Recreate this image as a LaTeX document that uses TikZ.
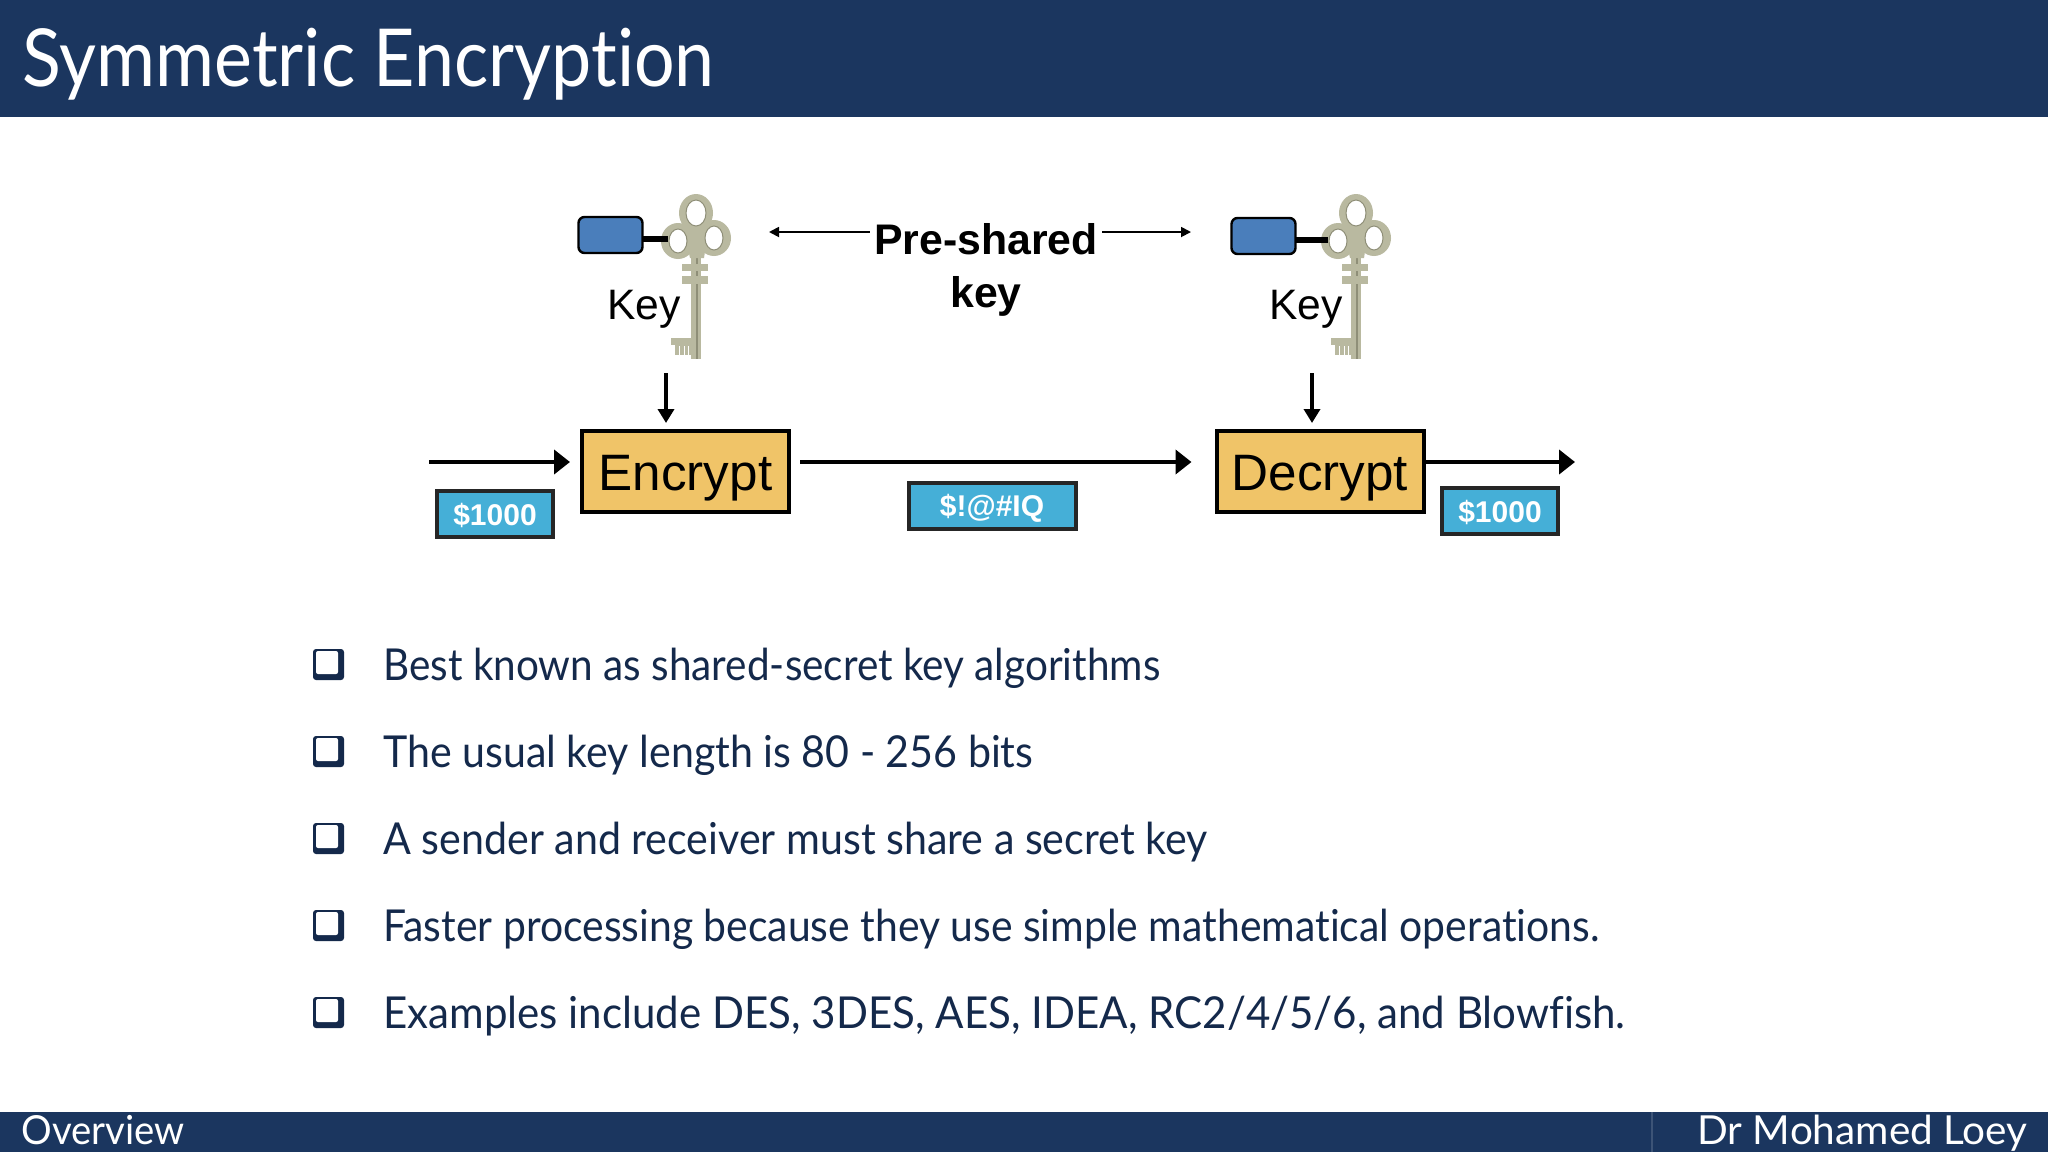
\documentclass[tikz,border=0pt]{standalone}
\usepackage{fontspec}
\usepackage{graphicx}
\setmainfont{Liberation Sans}
\newfontfamily\slidefont[RawFeature={-liga;-dlig;-clig}]{Lato}
\usetikzlibrary{arrows.meta}
\definecolor{navy}{HTML}{1B365F}
\definecolor{inktext}{HTML}{14294B}
\definecolor{gold}{HTML}{F0C468}
\definecolor{sky}{HTML}{45AFD7}
\definecolor{tagblue}{HTML}{4A7EBB}
\definecolor{keyc}{HTML}{B9B9A0}
\definecolor{keyd}{HTML}{8F8F78}
\newcommand{\fitw}[2]{\resizebox{#1}{\height}{#2}}
\newcommand{\drop}[2]{\raisebox{-#1}[0pt][0pt]{#2}}
\tikzset{
  band/.style={fill=navy,draw=none},
  slide/.style={font=\slidefont\fontsize{22pt}{26pt}\selectfont,text=inktext,anchor=base west,inner sep=0pt},
  slidew/.style={slide,text=white},
  footw/.style={slide,text=white,font=\slidefont\fontsize{20pt}{24pt}\selectfont},
  op/.style={draw=black,fill=gold,line width=2pt,minimum width=103.5pt,minimum height=40.5pt,inner sep=0pt,font=\fontsize{25.6pt}{28pt}\selectfont},
  val/.style={draw=black!85,fill=sky,line width=2pt,minimum width=58pt,minimum height=23pt,inner sep=0pt,text=white,font=\bfseries\fontsize{15pt}{18pt}\selectfont},
  flow/.style={line width=2.3pt,-{Triangle[length=8pt,width=12pt]}},
  thin flow/.style={line width=0.9pt,-{Triangle[length=5pt,width=5pt]}},
  feed/.style={line width=1.9pt,-{Triangle[length=7pt,width=8pt]}},
  keylabel/.style={font=\fontsize{21.3pt}{24pt}\selectfont,anchor=base west,inner sep=0pt},
  shared/.style={font=\bfseries\fontsize{21.4pt}{24pt}\selectfont,anchor=base,inner sep=0pt},
  tag/.style={draw=black,fill=tagblue,line width=1.2pt,rounded corners=3pt,minimum width=32pt,minimum height=18pt,inner sep=0pt},
}
\newcommand{\keyshape}[1]{%
  \begin{scope}[xshift=#1*0.5pt]
    \fill[keyc] (691,250) rectangle (701,359);
    \fill[keyd] (696,255) rectangle (697.5,359);
    \fill[keyc] (682,264) rectangle (708,271);
    \fill[keyc] (682,276) rectangle (708,284);
    \fill[keyc] (671,338) rectangle (691,345);
    \fill[keyc] (675,345) rectangle (691,355);
    \foreach \t in {679,684,688}{\fill[white] (\t,346) rectangle +(1.3,9);}
    \fill[keyc] (696,213) ellipse [x radius=17,y radius=19];
    \fill[keyc] (678,241) ellipse [x radius=17,y radius=18];
    \fill[keyc] (714,238) ellipse [x radius=17,y radius=18];
    \fill[keyc] (683,225) -- (709,225) -- (704,258) -- (690,258) -- cycle;
    \filldraw[fill=white,draw=keyd,line width=0.5pt] (696,213) ellipse [x radius=10,y radius=13];
    \filldraw[fill=white,draw=keyd,line width=0.5pt] (678,241) ellipse [x radius=9,y radius=12];
    \filldraw[fill=white,draw=keyd,line width=0.5pt] (714,238) ellipse [x radius=9,y radius=12];
  \end{scope}}
\begin{document}
\begin{tikzpicture}[x=0.5pt,y=-0.5pt]
\useasboundingbox (0,0) rectangle (2048,1152);
\fill[white] (0,0) rectangle (2048,1152);
% bands
\fill[band] (0,0) rectangle (2048,117);
\fill[band] (0,1112) rectangle (2048,1152);
\fill[navy!85!white] (1651,1112) rectangle (1652.5,1152);
\node[slidew,font=\slidefont\fontsize{40pt}{44pt}\selectfont] (title) at (22,86) {\fitw{346pt}{Symmetric Encryption}};
\node[footw] (overview) at (21,1144) {\fitw{81.5pt}{Overview}};
\node[footw] (author) at (1697,1144) {\fitw{165pt}{Dr Mohamed Loey}};
% keys
\keyshape{0}
\keyshape{660}
\coordinate (ring1) at (668,239);
\coordinate (ring2) at (1328,240);
\draw[line width=2.7pt] (ring1) -- (ring1 -| 640,0);
\draw[line width=2.7pt] (ring2) -- (ring2 -| 1293,0);
\node[tag] (tag1) at (610.5,235) {};
\node[tag] (tag2) at (1263.5,236) {};
\node[keylabel] (key1) at (607,319) {Key};
\node[keylabel] (key2) at (1269,319) {Key};
% pre-shared
\node[shared] (ps) at (986,254) {Pre-shared};
\node[shared] (ps2) at (986,307) {key};
\coordinate (psl) at (769,232);
\coordinate (psr) at (1191,232);
\draw[thin flow] ([xshift=-2pt]ps.west |- psl) -- (psl);
\draw[thin flow] ([xshift=2pt]ps.east |- psr) -- (psr);
% main flow
\node[op] (enc) at (685.5,471.5) {\drop{9.25pt}{Encrypt}};
\node[op] (dec) at (1320,471.5) {\drop{9.25pt}{Decrypt}};
\node[val] (v1) at (495,514) {\drop{5.5pt}{\$1000}};
\node[val,minimum width=83.5pt] (v2) at (992,505.5) {\drop{5.5pt}{\$!@\#IQ}};
\node[val] (v3) at (1500,511) {\drop{5.5pt}{\$1000}};
\coordinate (inl) at (429,462);
\coordinate (outr) at (1575,462);
\coordinate (kd1) at (666,373);
\coordinate (kd2) at (1312,373);
\draw[flow] (inl) -- ([xshift=-5pt]enc.west |- inl);
\draw[flow] ([xshift=4.5pt]enc.east |- inl) -- ([xshift=-11.5pt]dec.west |- inl);
\draw[flow] (dec.east |- inl) -- (outr);
\draw[feed] (kd1) -- ([yshift=3pt]enc.north -| kd1);
\draw[feed] (kd2) -- ([yshift=3pt]dec.north -| kd2);
% bullets
\foreach \yy/\w/\txt [count=\i] in {
  680/388.5pt/{Best known as shared-secret key algorithms},
  767/325pt/{The usual key length is 80 - 256 bits},
  854/412pt/{A sender and receiver must share a secret key},
  941/608pt/{Faster processing because they use simple mathematical operations.},
  1028/621pt/{Examples include DES, 3DES, AES, IDEA, RC2/4/5/6, and Blowfish.}}{
  \fill[inktext,rounded corners=1.5pt] (313,\yy-31) rectangle (344,\yy);
  \fill[white,rounded corners=1pt] (316,\yy-29) rectangle (338,\yy-6);
  \node[slide] (b\i) at (383,\yy) {\fitw{\w}{\txt}};
}
\end{tikzpicture}
\end{document}
